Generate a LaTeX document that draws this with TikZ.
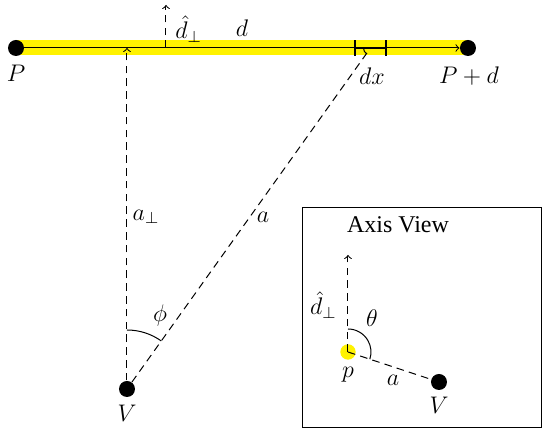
\documentclass[tikz,border=0pt]{standalone}
\usepackage{fontspec}
\setmainfont{Liberation Serif}
\begin{document}
\begin{tikzpicture}[x=0.5pt,y=0.5pt,
  every node/.style={font=\fontsize{12}{14}\selectfont},
  line width=0.5pt,
  dot/.style={circle,fill=black,inner sep=0pt,minimum size=8pt},
  ydot/.style={circle,fill=yellow,inner sep=0pt,minimum size=7.7pt},
  dashpat/.style={dash pattern=on 3.8pt off 2.6pt},
  dash line/.style={dashpat,->},
  lbl/.style={inner sep=1pt}]
\useasboundingbox (0,0) rectangle (543,433);
% main axis
\coordinate (Pc) at (16,385);
\coordinate (Pdc) at (468,385);
\draw[yellow,line width=7.5pt] (Pc) -- (Pdc);
\node[dot] (P) at (Pc) {};
\node[dot] (Pd) at (Pdc) {};
\draw[->] (P) -- (Pd);
\node[dot] (V) at (127,44) {};
\coordinate (F) at (127,385);
\coordinate (X) at (370.5,385);
\coordinate (Xl) at (355,385);
\coordinate (Xr) at (386,385);
\coordinate (Db) at (166,385);
\coordinate (Dt) at (166,428);
% dx segment
\draw[line width=1.2pt] (Xl) -- (Xr);
\draw[line width=1.2pt] ([yshift=-3.8pt]Xl) -- ([yshift=3.8pt]Xl);
\draw[line width=1.2pt] ([yshift=-3.8pt]Xr) -- ([yshift=3.8pt]Xr);
% dashed lines
\draw[dash line] (V) -- (F);
\draw[dashpat] (V) -- (X);
\draw[dash line] (Db) -- (Dt);
\draw (X) ++(180:7) arc[start angle=180,end angle=234.5,radius=7];
% phi arc
\draw (127,103) arc[start angle=90,end angle=54.5,radius=59];
% labels
\node[lbl] at (16,360) {$P$};
\node[lbl] at (469,357) {$P+d$};
\node[lbl] at (372,357) {$dx$};
\node[lbl] at (242,405) {$d$};
\node[lbl,anchor=west] at (173,404) {$\hat{d}_\perp$};
\node[lbl] at (146,216) {$a_\perp$};
\node[lbl] at (263,216) {$a$};
\node[lbl] at (160,117) {$\phi$};
\node[lbl] at (127,20) {$V$};
% axis view box
\draw (303,5) rectangle (542,225);
\node[lbl] (title) at (398,208) {Axis View};
\node[ydot] (p) at (348,81) {};
\node[dot] (Vb) at (439,51) {};
\coordinate (pc) at (348,81);
\coordinate (Up) at (348,178);
\draw[dash line] (pc) -- (Up);
\draw[dashpat] (pc) -- (Vb);
\draw (348,104) arc[start angle=90,end angle=-18.3,radius=23];
\node[lbl,anchor=east] at (339,128) {$\hat{d}_\perp$};
\node[lbl] at (372,115) {$\theta$};
\node[lbl] at (348,58) {$p$};
\node[lbl] at (393,53) {$a$};
\node[lbl] at (439,28) {$V$};
\end{tikzpicture}
\end{document}
